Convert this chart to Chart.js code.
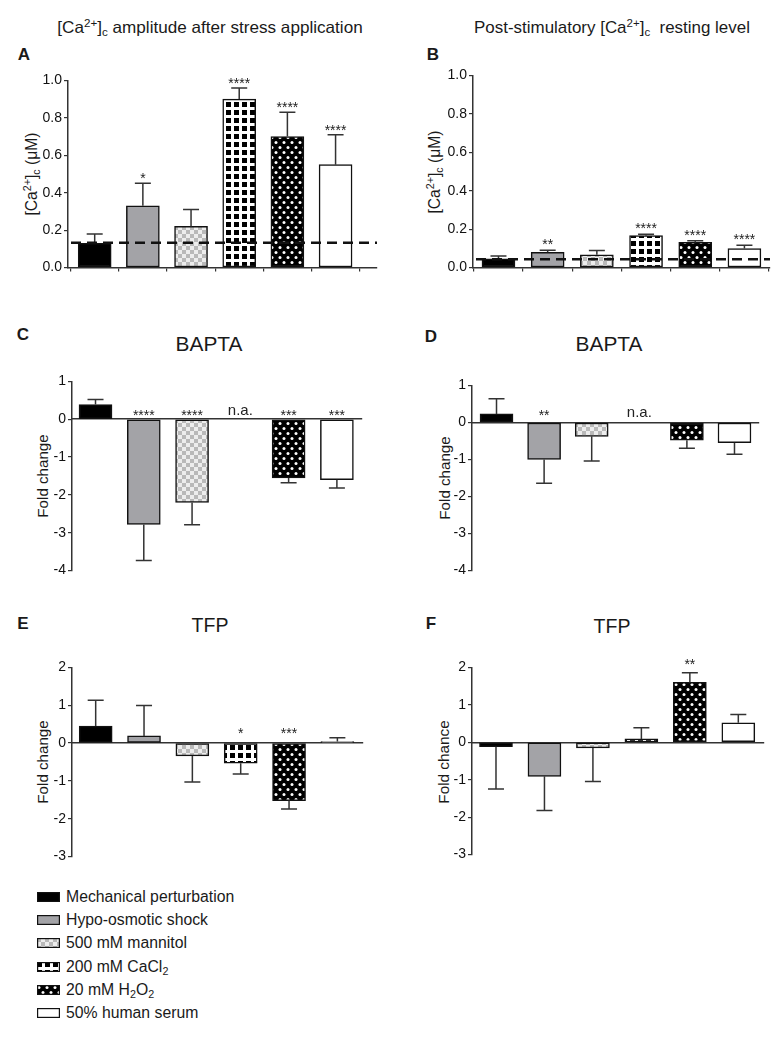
<!DOCTYPE html>
<html>
<head>
<meta charset="utf-8">
<script src="https://cdn.jsdelivr.net/npm/chart.js@4.4.1/dist/chart.umd.min.js"></script>
<style>
  body{margin:0;background:#fff;width:784px;height:1039px;position:relative;overflow:hidden;
       font-family:'Liberation Sans',Arial,Helvetica,sans-serif;color:#1a1a1a}
  .abs{position:absolute}
  .c{transform:translate(-50%,-50%);white-space:nowrap;line-height:1}
  .rot{transform:translate(-50%,-50%) rotate(-90deg);white-space:nowrap;line-height:1}
  sup,sub{font-size:0.68em;line-height:0;position:relative;vertical-align:baseline}
  sup{top:-0.55em} sub{top:0.3em}
  .lab{font-weight:bold;font-size:17px}
  .ttl{font-size:17px}
  .sub{font-size:19px}
  .yt{font-size:15.5px}
  canvas{position:absolute}
  #legend{font-size:15.5px}
  .leg{position:absolute;left:37px;line-height:1;white-space:nowrap}
  .leg canvas{position:absolute;left:0;top:0}
  .leg span{position:absolute;left:29px;top:50%;transform:translateY(-50%)}
</style>
</head>
<body>
<div class="abs c ttl" data-w="305" style="left:210px;top:28px">[Ca<sup>2+</sup>]<sub>c</sub> amplitude after stress application</div>
<div class="abs c ttl" data-w="276" style="left:612px;top:28px">Post-stimulatory [Ca<sup>2+</sup>]<sub>c</sub>&nbsp; resting level</div>
<div class="abs c lab" style="left:24px;top:54px">A</div>
<div class="abs c lab" style="left:433px;top:54px">B</div>
<div class="abs c lab" style="left:23px;top:334px">C</div>
<div class="abs c lab" style="left:431px;top:336px">D</div>
<div class="abs c lab" style="left:23px;top:623px">E</div>
<div class="abs c lab" style="left:431px;top:623px">F</div>
<div class="abs c sub" data-w="67" style="left:209px;top:344px">BAPTA</div>
<div class="abs c sub" data-w="67" style="left:609px;top:344px">BAPTA</div>
<div class="abs c sub" data-w="37" style="left:210px;top:626px">TFP</div>
<div class="abs c sub" data-w="37" style="left:612px;top:627px">TFP</div>
<div class="abs rot yt" data-w="83" style="left:32px;top:174px">[Ca<sup>2+</sup>]<sub>c</sub> (μM)</div>
<div class="abs rot yt" data-w="83" style="left:435px;top:172px">[Ca<sup>2+</sup>]<sub>c</sub> (μM)</div>
<div class="abs rot yt" data-w="83" style="left:43px;top:476px">Fold change</div>
<div class="abs rot yt" data-w="83" style="left:445px;top:478px">Fold change</div>
<div class="abs rot yt" data-w="83" style="left:43px;top:762px">Fold change</div>
<div class="abs rot yt" data-w="83" style="left:444px;top:762px">Fold chance</div>
<div id="legend"></div>

<script>
// ---------------- DATA ----------------
const CATEGORIES = ['Mechanical perturbation','Hypo-osmotic shock','500 mM mannitol','200 mM CaCl2','20 mM H2O2','50% human serum'];

const AMP_TICKS   = [0, 0.2, 0.4, 0.6, 0.8, 1.0];
const BAPTA_TICKS = [-4, -3, -2, -1, 0, 1];
const TFP_TICKS   = [-3, -2, -1, 0, 1, 2];

// A: [Ca2+]c amplitude after stress application (µM)
const A_MEAN = [0.13, 0.33, 0.22, 0.90, 0.70, 0.55];
const A_SD   = [0.05, 0.12, 0.09, 0.06, 0.13, 0.16];
const A_SIG  = ['', '*', '', '****', '****', '****'];
const A_BASELINE = 0.133;

// B: post-stimulatory resting level (µM)
const B_MEAN = [0.046, 0.080, 0.067, 0.166, 0.131, 0.099];
const B_SD   = [0.014, 0.010, 0.022, 0.008, 0.009, 0.017];
const B_SIG  = ['', '**', '', '****', '****', '****'];
const B_BASELINE = 0.043;

// C: BAPTA, amplitude fold change
const C_MEAN = [0.39, -2.78, -2.20, null, -1.55, -1.60];
const C_SD   = [0.13, 0.95, 0.59, null, 0.13, 0.22];
const C_SIG  = ['', '****', '****', 'n.a.', '***', '***'];

// D: BAPTA, resting level fold change
const D_MEAN = [0.23, -1.00, -0.375, null, -0.48, -0.545];
const D_SD   = [0.41, 0.64, 0.665, null, 0.22, 0.315];
const D_SIG  = ['', '**', '', 'n.a.', '', ''];

// E: TFP, amplitude fold change
const E_MEAN = [0.45, 0.19, -0.34, -0.53, -1.52, 0.04];
const E_SD   = [0.68, 0.80, 0.69, 0.29, 0.22, 0.10];
const E_SIG  = ['', '', '', '*', '***', ''];

// F: TFP, resting level fold change
const F_MEAN = [-0.12, -0.91, -0.15, 0.09, 1.60, 0.52];
const F_SD   = [1.13, 0.91, 0.90, 0.30, 0.26, 0.22];
const F_SIG  = ['', '', '', '', '**', ''];

// ---------------- STYLE ----------------
const FONT = "'Liberation Sans', Arial, Helvetica, sans-serif";
const AXIS_COLOR = '#333';

function makePattern(w, h, draw) {
  const c = document.createElement('canvas');
  c.width = w; c.height = h;
  const g = c.getContext('2d');
  draw(g);
  return g.createPattern(c, 'repeat');
}
function dot(g, x, y) { g.beginPath(); g.arc(x, y, 1.5, 0, Math.PI * 2); g.fill(); }

const FILLS = [
  '#000000',
  '#a3a3a7',
  makePattern(8, 8, g => { g.fillStyle = '#ededed'; g.fillRect(0,0,8,8); g.fillStyle = '#b9b9b9'; g.fillRect(0,0,4,4); g.fillRect(4,4,4,4); }),
  makePattern(8, 8, g => { g.fillStyle = '#ffffff'; g.fillRect(0,0,8,8); g.fillStyle = '#000'; g.fillRect(0,0,5,5); }),
  makePattern(8, 10, g => { g.fillStyle = '#000'; g.fillRect(0,0,8,10); g.fillStyle = '#fff'; dot(g,2,2.5); dot(g,6,7.5); }),
  '#ffffff'
];

const YW = 42, PT = 10, PR = 4;

function makePanel(p) {
  const axisAtZero = p.axisAtZero;
  const XH = axisAtZero ? 0 : 8;
  const PB = axisAtZero ? 10 : 2;
  const a = p.area;
  const cv = document.createElement('canvas');
  const w = (a.r - a.l) + YW + PR;
  const h = (a.b - a.t) + PT + PB + XH;
  cv.width = w; cv.height = h;
  cv.style.left = (a.l - YW) + 'px';
  cv.style.top = (a.t - PT) + 'px';
  cv.style.width = w + 'px'; cv.style.height = h + 'px';
  document.body.appendChild(cv);

  const extras = {
    id: 'extras_' + p.id,
    afterDatasetsDraw(chart) {
      const ctx = chart.ctx, ys = chart.scales.y, xs = chart.scales.x, ca = chart.chartArea;
      const meta = chart.getDatasetMeta(0);
      ctx.save();
      // error bars (one-sided, away from zero)
      ctx.strokeStyle = AXIS_COLOR; ctx.lineWidth = 1.5;
      p.mean.forEach((m, i) => {
        if (m == null) return;
        const el = meta.data[i];
        const dir = m >= 0 ? 1 : -1;
        const y0 = ys.getPixelForValue(m);
        const y1 = ys.getPixelForValue(m + dir * p.sd[i]);
        ctx.beginPath();
        ctx.moveTo(el.x, y0); ctx.lineTo(el.x, y1);
        ctx.moveTo(el.x - 8, y1); ctx.lineTo(el.x + 8, y1);
        ctx.stroke();
      });
      // dashed control level
      if (p.baseline != null) {
        const yb = ys.getPixelForValue(p.baseline);
        ctx.strokeStyle = '#111'; ctx.lineWidth = 2.5; ctx.setLineDash([10, 6]);
        ctx.beginPath(); ctx.moveTo(ca.left + 3, yb); ctx.lineTo(ca.right, yb); ctx.stroke();
        ctx.setLineDash([]);
      }
      // significance labels
      ctx.fillStyle = '#222'; ctx.textAlign = 'center'; ctx.textBaseline = 'alphabetic';
      p.sig.forEach((s, i) => {
        if (!s) return;
        const x = xs.getPixelForValue(i);
        const m = p.mean[i];
        if (s === 'n.a.') {
          ctx.font = '15px ' + FONT;
          ctx.fillText(s, x, ys.getPixelForValue(0) - p.naGap);
          return;
        }
        const ref = (m != null && m > 0) ? ys.getPixelForValue(m + p.sd[i]) : ys.getPixelForValue(0);
        ctx.font = '14px ' + FONT;
        ctx.fillText(s, x, ref - p.starGap);
      });
      ctx.restore();
    }
  };

  const ticks = p.ticks;
  return new Chart(cv, {
    type: 'bar',
    data: {
      datasets: [{
        data: p.mean.map((v, i) => ({ x: i, y: v })),
        backgroundColor: FILLS,
        borderColor: '#111',
        borderWidth: 1.5,
        borderSkipped: false,
        barThickness: 33
      }]
    },
    options: {
      responsive: false, animation: false, devicePixelRatio: 1,
      layout: { padding: { top: PT, right: PR, bottom: PB, left: 0 } },
      plugins: { legend: { display: false }, tooltip: { enabled: false } },
      scales: {
        x: {
          type: 'linear', min: p.xmin, max: p.xmax, offset: false,
          position: axisAtZero ? { y: 0 } : 'bottom',
          afterBuildTicks: s => { s.ticks = p.mean.map((_, i) => ({ value: i })); },
          afterFit: s => { s.height = XH; },
          ticks: { display: false },
          grid: { display: !axisAtZero, drawOnChartArea: false, drawTicks: true, tickLength: 4, color: AXIS_COLOR, lineWidth: 1.2 },
          border: { display: true, color: AXIS_COLOR, width: 1.5 }
        },
        y: {
          type: 'linear', min: ticks[0], max: ticks[ticks.length - 1],
          afterBuildTicks: s => { s.ticks = ticks.map(v => ({ value: v })); },
          afterFit: s => { s.width = YW; },
          ticks: { font: { family: FONT, size: 14 }, color: '#111', padding: 2,
                   callback: v => p.fmt(v) },
          grid: { drawOnChartArea: false, drawTicks: true, tickLength: 4, color: AXIS_COLOR, lineWidth: 1.2 },
          border: { display: true, color: AXIS_COLOR, width: 1.5 }
        }
      }
    },
    plugins: [extras]
  });
}

const fmt1 = v => v.toFixed(1);
const fmt0 = v => String(v);

makePanel({ id: 'A', mean: A_MEAN, sd: A_SD, sig: A_SIG, baseline: A_BASELINE, ticks: AMP_TICKS, fmt: fmt1,
  area: { l: 68, r: 377, t: 80, b: 268 }, xmin: -0.554, xmax: 5.86, axisAtZero: false, starGap: 0, naGap: 4 });
makePanel({ id: 'B', mean: B_MEAN, sd: B_SD, sig: B_SIG, baseline: B_BASELINE, ticks: AMP_TICKS, fmt: fmt1,
  area: { l: 473, r: 770, t: 75, b: 268 }, xmin: -0.518, xmax: 5.52, axisAtZero: false, starGap: 1, naGap: 4 });
makePanel({ id: 'C', mean: C_MEAN, sd: C_SD, sig: C_SIG, ticks: BAPTA_TICKS, fmt: fmt0,
  area: { l: 72, r: 362, t: 381, b: 571 }, xmin: -0.487, xmax: 5.52, axisAtZero: true, starGap: -1, naGap: 4 });
makePanel({ id: 'D', mean: D_MEAN, sd: D_SD, sig: D_SIG, ticks: BAPTA_TICKS, fmt: fmt0,
  area: { l: 472, r: 759, t: 385, b: 571 }, xmin: -0.515, xmax: 5.515, axisAtZero: true, starGap: 2.3, naGap: 5 });
makePanel({ id: 'E', mean: E_MEAN, sd: E_SD, sig: E_SIG, ticks: TFP_TICKS, fmt: fmt0,
  area: { l: 72, r: 363, t: 667, b: 857 }, xmin: -0.49, xmax: 5.53, axisAtZero: true, starGap: 4.7, naGap: 4 });
makePanel({ id: 'F', mean: F_MEAN, sd: F_SD, sig: F_SIG, ticks: TFP_TICKS, fmt: fmt0,
  area: { l: 472, r: 764, t: 667, b: 855 }, xmin: -0.495, xmax: 5.53, axisAtZero: true, starGap: 3.3, naGap: 4 });

// ---------------- LEGEND ----------------
const legend = document.getElementById('legend');
const chem = s => s.replace(/([A-Za-z])(\d)/g, '$1<sub>$2</sub>');
CATEGORIES.forEach((name, i) => {
  const row = document.createElement('div');
  row.className = 'leg';
  const cy = 897 + i * 23.2;
  row.style.top = (cy - 5) + 'px';
  row.style.height = '10px';
  const sw = document.createElement('canvas');
  sw.width = 23; sw.height = 10;
  const g = sw.getContext('2d');
  g.fillStyle = FILLS[i]; g.fillRect(0, 0, 23, 10);
  g.strokeStyle = '#111'; g.lineWidth = 1.2; g.strokeRect(0.6, 0.6, 21.8, 8.8);
  row.appendChild(sw);
  const t = document.createElement('span');
  t.innerHTML = chem(name);
  row.appendChild(t);
  legend.appendChild(row);
});

// ---------------- fit text widths to the reference ----------------
document.querySelectorAll('[data-w]').forEach(el => {
  const target = parseFloat(el.dataset.w);
  const fs = parseFloat(getComputedStyle(el).fontSize);
  const w = el.offsetWidth;
  if (w > 0) el.style.fontSize = (fs * target / w).toFixed(2) + 'px';
});
const firstLeg = legend.querySelector('span');
if (firstLeg && firstLeg.offsetWidth > 0) {
  const fs = parseFloat(getComputedStyle(legend).fontSize);
  legend.style.fontSize = (fs * 168 / firstLeg.offsetWidth).toFixed(2) + 'px';
}
</script>
</body>
</html>
